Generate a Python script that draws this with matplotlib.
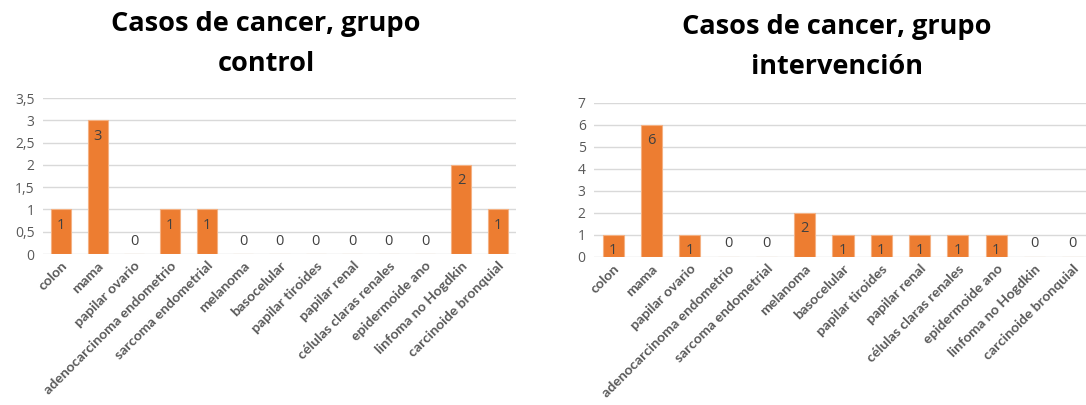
import matplotlib
matplotlib.use("Agg")
import matplotlib.pyplot as plt
import numpy as np

categorias = ["colon", "mama", "papilar ovario", "adenocarcinoma endometrio",
              "sarcoma endometrial", "melanoma", "basocelular", "papilar tiroides",
              "papilar renal", "células claras renales", "epidermoide ano",
              "linfoma no Hogdkin", "carcinoide bronquial"]
casos_control = [1, 3, 0, 1, 1, 0, 0, 0, 0, 0, 0, 2, 1]
casos_intervencion = [1, 6, 1, 0, 0, 2, 1, 1, 1, 1, 1, 0, 0]

titulo_control = "Casos de cancer, grupo\ncontrol"
titulo_intervencion = "Casos de cancer, grupo\nintervención"

ticks_control = [0, 0.5, 1, 1.5, 2, 2.5, 3, 3.5]
ticks_intervencion = [0, 1, 2, 3, 4, 5, 6, 7]

NARANJA = "#ED7D31"
GRIS_TEXTO = "#595959"
GRIS_REJILLA = "#D9D9D9"
FUENTE = "Open Sans"
FUENTE_CAT = "Lato"

fig = plt.figure(figsize=(10.86, 4.05), dpi=100)
W, H = 1086, 405


def ax_rect(x0, x1, ytop, ybot):
    return [x0 / W, 1 - ybot / H, (x1 - x0) / W, (ybot - ytop) / H]


def fmt(v):
    s = f"{v:g}"
    return s.replace(".", ",")


def panel(rect, valores, yticks, titulo, tx, ty):
    ax = fig.add_axes(rect)
    x = np.arange(len(categorias))
    ax.bar(x, valores, width=0.55, color=NARANJA, edgecolor="#F4B183",
           linewidth=0.8, zorder=3)
    ax.set_xlim(-0.5, len(categorias) - 0.5)
    ax.set_ylim(0, yticks[-1])
    ax.set_yticks(yticks)
    ax.set_yticklabels([fmt(t) for t in yticks], fontsize=10,
                       color=GRIS_TEXTO, family=FUENTE)
    ax.yaxis.grid(True, color=GRIS_REJILLA, linewidth=1, zorder=0)
    ax.set_axisbelow(True)
    for s in ax.spines.values():
        s.set_visible(False)
    ax.tick_params(axis="both", length=0)
    ax.tick_params(axis="y", pad=6)
    ax.tick_params(axis="x", pad=4)
    ax.set_xticks(x)
    ax.set_xticklabels(categorias, rotation=45, ha="right",
                       rotation_mode="anchor", fontsize=10.2,
                       color=GRIS_TEXTO, family=FUENTE_CAT, fontweight="bold")
    for xi, v in zip(x, valores):
        if v > 0:
            ax.annotate(str(v), (xi, v), xytext=(0, -16),
                        textcoords="offset pixels", ha="center", va="center",
                        fontsize=10.5, color="#404040", family=FUENTE)
        else:
            ax.annotate(str(v), (xi, 0), xytext=(0, 13),
                        textcoords="offset pixels", ha="center", va="center",
                        fontsize=10.5, color="#404040", family=FUENTE)
    fig.text(tx / W, 1 - ty / H, titulo, ha="center", va="center",
             fontsize=19.5, fontweight="bold", family=FUENTE,
             color="black", linespacing=1.68)
    return ax


panel(ax_rect(43, 516, 98, 254), casos_control, ticks_control,
      titulo_control, 266, 44)
panel(ax_rect(594, 1092, 103, 257), casos_intervencion, ticks_intervencion,
      titulo_intervencion, 837, 47)

fig.savefig("out.png", dpi=100, facecolor="white")
